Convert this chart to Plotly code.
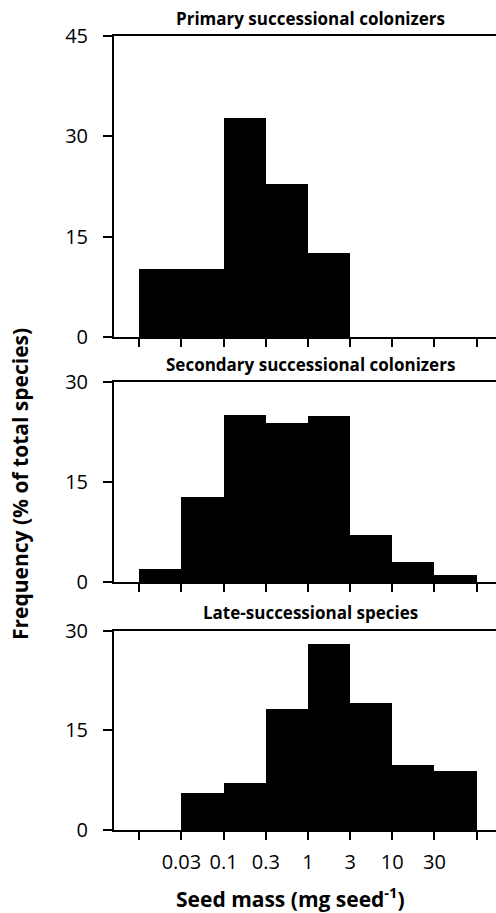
import plotly.graph_objects as go

edge_labels = ["0.01", "0.03", "0.1", "0.3", "1", "3", "10", "30", "100"]
shown_labels = ["0.03", "0.1", "0.3", "1", "3", "10", "30"]

primary = [10.2, 10.1, 32.7, 22.8, 12.6, 0, 0, 0]
secondary = [2.0, 12.8, 25.1, 23.8, 24.9, 7.0, 3.0, 1.1]
late = [0, 5.6, 7.1, 18.3, 28.0, 19.1, 9.9, 8.9]

titles = ["Primary successional colonizers",
          "Secondary successional colonizers",
          "Late-successional species"]
ymax = [45, 30, 30]
yticks = [[0, 15, 30, 45], [0, 15, 30], [0, 15, 30]]

W, H = 496, 913
L = 114
# pixel positions (top, bottom) of each panel
panels_px = [(36, 337), (382.3, 582.3), (630.7, 830)]

FONT = "Open Sans"
fig = go.Figure()
series = [primary, secondary, late]
n_edges = len(edge_labels)
centers = [i + 0.5 for i in range(n_edges - 1)]
inner_edges = list(range(1, n_edges - 1))
outer_edges = [0, n_edges - 1]

for k, vals in enumerate(series):
    xa = "x" if k == 0 else f"x{k+1}"
    ya = "y" if k == 0 else f"y{k+1}"
    fig.add_trace(go.Bar(x=centers, y=vals, width=1, xaxis=xa, yaxis=ya,
                         marker=dict(color="black", line=dict(width=0)),
                         showlegend=False))
    top, bot = panels_px[k]
    dom = [1 - bot / H, 1 - top / H]
    xkey = "xaxis" if k == 0 else f"xaxis{k+1}"
    ykey = "yaxis" if k == 0 else f"yaxis{k+1}"
    fig.update_layout({
        xkey: dict(range=[-0.6, 8.46], domain=[0, 1], anchor=ya,
                   tickvals=inner_edges, ticktext=shown_labels,
                   showticklabels=(k == 2),
                   ticks="outside", ticklen=8, tickwidth=2, tickcolor="black",
                   minor=dict(tickvals=outer_edges, ticks="outside", ticklen=8,
                              tickwidth=2, tickcolor="black", showgrid=False),
                   showline=True, linewidth=2, linecolor="black", mirror=True,
                   showgrid=False, zeroline=False, automargin=False,
                   ticklabelstandoff=5,
                   tickfont=dict(family=FONT, size=20, color="black")),
        ykey: dict(range=[0, ymax[k]], domain=dom, anchor=xa,
                   tickvals=yticks[k], ticks="outside", ticklen=9, tickwidth=2,
                   tickcolor="black", showline=True, linewidth=2, linecolor="black",
                   showgrid=False, zeroline=False, automargin=False,
                   ticklabelstandoff=11,
                   tickfont=dict(family=FONT, size=20, color="black")),
    })
    fig.add_annotation(text=f"<b>{titles[k]}</b>", xref="paper", yref="paper",
                       x=(310 - L) / (W - L), y=1 - (top - 18) / H,
                       xanchor="center", yanchor="middle", showarrow=False,
                       font=dict(family=FONT, size=17, color="black"))

fig.add_annotation(text="<b>Seed mass (mg seed<sup>-1</sup>)</b>", xref="paper", yref="paper",
                   x=(290 - L) / (W - L), y=1 - 897 / H, xanchor="center", yanchor="middle",
                   showarrow=False, font=dict(family=FONT, size=21, color="black"))
fig.add_annotation(text="<b>Frequency (% of total species)</b>", xref="paper", yref="paper",
                   x=(20 - L) / (W - L), y=1 - 484 / H, xanchor="center", yanchor="middle",
                   textangle=-90, showarrow=False,
                   font=dict(family=FONT, size=21, color="black"))

fig.update_layout(width=W, height=H, margin=dict(l=L, r=0, t=0, b=0),
                  paper_bgcolor="white", plot_bgcolor="white", bargap=0)
fig.write_html("out.html", config={"displayModeBar": False},
               post_script="document.body.style.margin='0px';document.body.style.overflow='hidden';")
